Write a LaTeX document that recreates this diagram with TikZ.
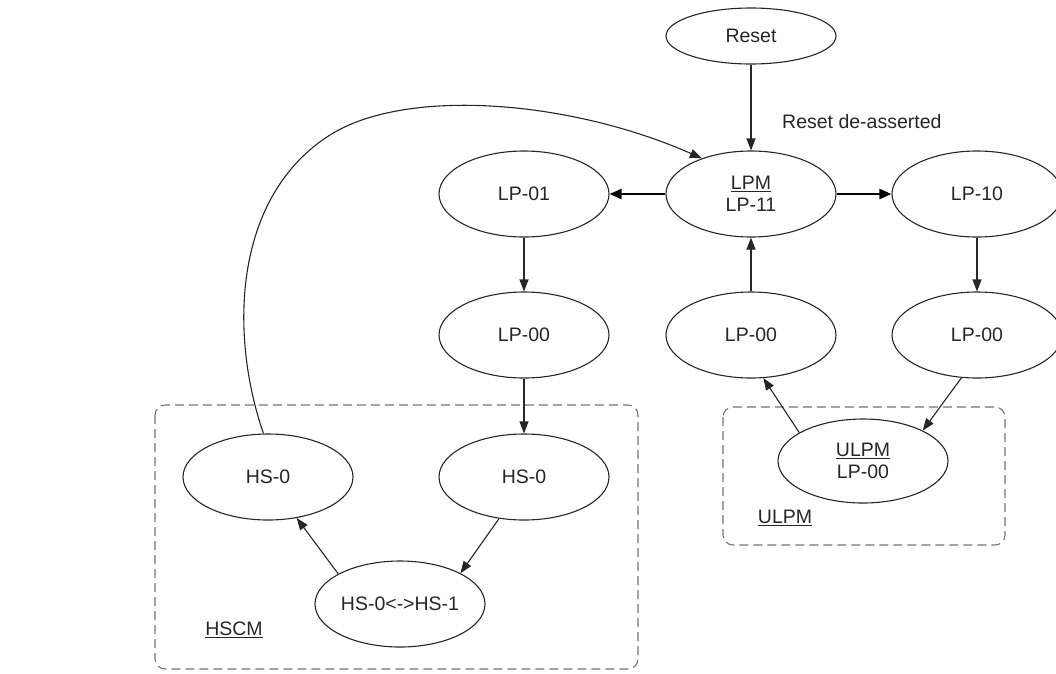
\documentclass[tikz,border=0pt]{standalone}
\usepackage{fontspec}
\setmainfont{Liberation Sans}
\usetikzlibrary{shapes.geometric,arrows.meta}
\tikzset{
  st/.style={draw=black!85, line width=1.1pt, ellipse, minimum width=170pt, minimum height=86pt, inner sep=0pt, align=center, font=\fontsize{19.5}{22.5}\selectfont, text=black!85},
  conn/.style={draw=black!85, line width=1.1pt, -{Triangle[length=12pt,width=9pt]}},
  thick conn/.style={draw=black, line width=2.2pt, -{Triangle[length=12pt,width=10pt]}},
  group/.style={draw=black!55, line width=1.1pt, dash pattern=on 9pt off 5pt, rounded corners=10pt},
  lbl/.style={font=\fontsize{19.5}{22.5}\selectfont, text=black!85, inner sep=0pt}
}
\begin{document}
\begin{tikzpicture}[x=1pt,y=-1pt]
\useasboundingbox (0,0) rectangle (1056,673);
% groups
\draw[group] (155,405) rectangle (638,669);
\draw[group] (723,407) rectangle (1005,545);
% states
\node[st, minimum height=56pt] (reset) at (751,36) {Reset};
\node[st] (lpm) at (751,194) {\underline{LPM}\\LP-11};
\node[st] (lp01) at (524,194) {LP-01};
\node[st] (lp10) at (977,194) {LP-10};
\node[st] (lp00l) at (524,335) {LP-00};
\node[st] (lp00m) at (751,335) {LP-00};
\node[st] (lp00r) at (977,335) {LP-00};
\node[st] (hs0l) at (268,477) {HS-0};
\node[st] (hs0r) at (524,477) {HS-0};
\node[st] (hsb) at (400,604) {HS-0<->HS-1};
\node[st, minimum height=84pt] (ulpm) at (863,461) {\underline{ULPM}\\LP-00};
% labels
\node[lbl, anchor=west] (rda) at (782,122) {Reset de-asserted};
\node[lbl] (hscml) at (234,630) {\underline{HSCM}};
\node[lbl] (ulpml) at (785,518) {\underline{ULPM}};
% connectors
\draw[conn] (reset.south) -- (lpm.north);
\draw[thick conn] (lpm.west) -- (lp01.east);
\draw[thick conn] (lpm.east) -- (lp10.west);
\draw[conn] (lp01.south) -- (lp00l.north);
\draw[conn] (lp00m.north) -- (lpm.south);
\draw[conn] (lp10.south) -- (lp00r.north);
\draw[conn] (lp00l.south) -- (hs0r.north);
\draw[conn] (hs0r.239) -- (hsb.27);
\draw[conn] (hsb.154) -- (hs0l.305);
\draw[conn] (ulpm.156) -- (lp00m.286);
\draw[conn] (lp00r.250) -- (ulpm.27);
\draw[conn] (hs0l.96) .. controls (228,330) and (235,195) .. (330,135)
   .. controls (406,87) and (570,100) .. (lpm.144);
\end{tikzpicture}
\end{document}
